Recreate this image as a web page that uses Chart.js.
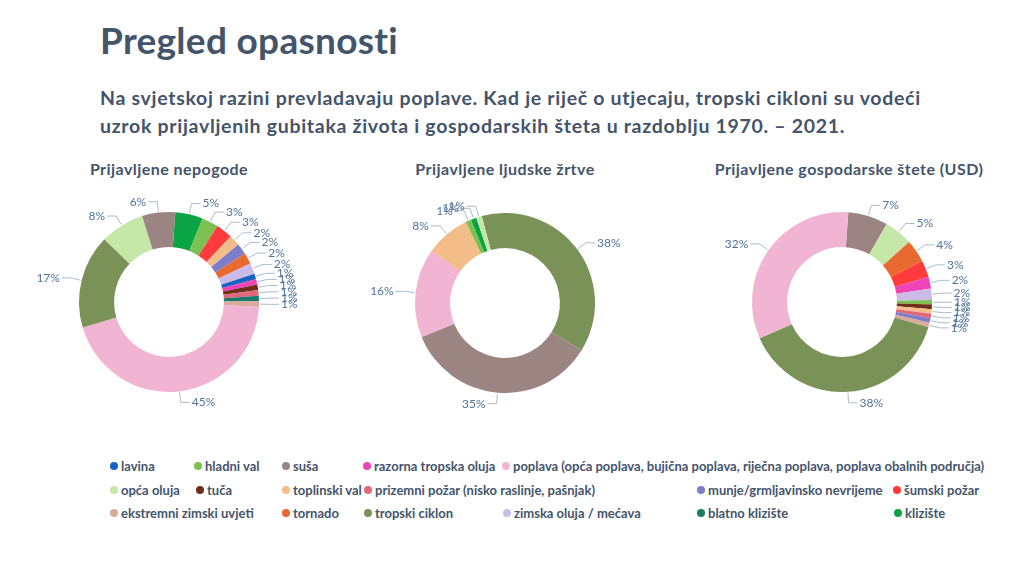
<!DOCTYPE html>
<html>
<head>
<meta charset="utf-8">
<script src="https://cdn.jsdelivr.net/npm/chart.js@4.4.0/dist/chart.umd.min.js"></script>
<style>
  body { margin: 0; width: 1024px; height: 562px; background: #fff; position: relative; overflow: hidden; font-family: Lato, sans-serif; color: #44546a; }
  #naslov { position: absolute; left: 100px; top: 18px; font-size: 37px; font-weight: bold; line-height: 44px; letter-spacing: 0.3px; white-space: nowrap; }
  #podnaslov { position: absolute; left: 100px; top: 84px; font-size: 19.5px; font-weight: bold; line-height: 28px; letter-spacing: 0.7px; white-space: nowrap; }
  .ctitle { position: absolute; top: 159px; width: 340px; text-align: center; font-size: 16px; font-weight: bold; letter-spacing: 0.45px; white-space: nowrap; }
  canvas { position: absolute; }
  .leg { position: absolute; font-size: 13px; font-weight: bold; white-space: nowrap; line-height: 16px; }
  .leg i { position: absolute; left: -11px; top: 4px; width: 8px; height: 8px; border-radius: 50%; }
</style>
</head>
<body>
<div id="naslov">Pregled opasnosti</div>
<div id="podnaslov">Na svjetskoj razini prevladavaju poplave. Kad je riječ o utjecaju, tropski cikloni su vodeći<br>uzrok prijavljenih gubitaka života i gospodarskih šteta u razdoblju 1970. – 2021.</div>
<div class="ctitle" style="left:-1px">Prijavljene nepogode</div>
<div class="ctitle" style="left:335px">Prijavljene ljudske žrtve</div>
<div class="ctitle" style="left:679px">Prijavljene gospodarske štete (USD)</div>
<canvas id="c1" width="340" height="260" style="left:-1px;top:172px"></canvas>
<canvas id="c2" width="340" height="260" style="left:335px;top:173px"></canvas>
<canvas id="c3" width="340" height="260" style="left:672px;top:172px"></canvas>
<div id="legenda"></div>
<script>
// kategorije i boje
const kategorije = ['lavina', 'hladni val', 'suša', 'razorna tropska oluja',
  'poplava (opća poplava, bujična poplava, riječna poplava, poplava obalnih područja)',
  'opća oluja', 'tuča', 'toplinski val', 'prizemni požar (nisko raslinje, pašnjak)',
  'munje/grmljavinsko nevrijeme', 'šumski požar', 'ekstremni zimski uvjeti', 'tornado',
  'tropski ciklon', 'zimska oluja / mećava', 'blatno klizište', 'klizište'];
const boje = ['#1663c2', '#7cc152', '#9b8583', '#ee44b8', '#f2b4d3', '#c5e8a8', '#6e2e1a',
  '#f3bd8a', '#e0687a', '#7b7dcb', '#ff3b3b', '#daab9a', '#e86a30', '#7a9258', '#cbbbe6',
  '#1b7a6c', '#0aa444'];

// prvi grafikon - prijavljene nepogode (%)
const nepogodeKat = ['klizište', 'hladni val', 'šumski požar', 'toplinski val', 'munje/grmljavinsko nevrijeme',
  'tornado', 'zimska oluja / mećava', 'lavina', 'razorna tropska oluja', 'tuča',
  'prizemni požar (nisko raslinje, pašnjak)', 'blatno klizište', 'ekstremni zimski uvjeti',
  'poplava (opća poplava, bujična poplava, riječna poplava, poplava obalnih područja)',
  'tropski ciklon', 'opća oluja', 'suša'];
const nepogodeVal = [5, 3, 3, 2, 2, 2, 2, 1, 1, 1, 1, 1, 1, 45, 17, 8, 6];

// drugi grafikon - ljudske žrtve (%)
const zrtveKat = ['tropski ciklon', 'suša',
  'poplava (opća poplava, bujična poplava, riječna poplava, poplava obalnih područja)',
  'toplinski val', 'hladni val', 'klizište', 'opća oluja'];
const zrtveVal = [38, 35, 16, 8, 1, 1, 1];

// treći grafikon - gospodarske štete (%)
const steteKat = ['suša', 'opća oluja', 'tornado', 'šumski požar', 'razorna tropska oluja',
  'zimska oluja / mećava', 'hladni val', 'tuča', 'toplinski val',
  'prizemni požar (nisko raslinje, pašnjak)', 'munje/grmljavinsko nevrijeme',
  'ekstremni zimski uvjeti', 'tropski ciklon',
  'poplava (opća poplava, bujična poplava, riječna poplava, poplava obalnih područja)'];
const steteVal = [7, 5, 4, 3, 2, 2, 0.8, 0.8, 0.8, 0.8, 0.8, 0.8, 38, 32];

// raspored legende (x točke, y retka)
const legendaPoz = [[114, 466], [198, 466], [286, 466], [367, 466], [506, 466],
  [114, 490], [200, 490], [286, 490], [368, 490], [701, 490], [897, 490],
  [114, 513], [286, 513], [368, 513], [507, 513], [701, 513], [898, 513]];
const legendaRed = ['lavina', 'hladni val', 'suša', 'razorna tropska oluja',
  'poplava (opća poplava, bujična poplava, riječna poplava, poplava obalnih područja)',
  'opća oluja', 'tuča', 'toplinski val', 'prizemni požar (nisko raslinje, pašnjak)',
  'munje/grmljavinsko nevrijeme', 'šumski požar', 'ekstremni zimski uvjeti', 'tornado',
  'tropski ciklon', 'zimska oluja / mećava', 'blatno klizište', 'klizište'];

const boja = k => boje[kategorije.indexOf(k)];

// oznake izvan prstena s linijama
const vanjskeOznake = {
  id: 'vanjskeOznake',
  afterDatasetsDraw(chart) {
    const ctx = chart.ctx;
    const meta = chart.getDatasetMeta(0);
    const vals = chart.data.datasets[0].data;
    ctx.save();
    ctx.font = '12px Lato';
    ctx.lineWidth = 1;
    meta.data.forEach((arc, i) => {
      const p = arc.getProps(['x', 'y', 'startAngle', 'endAngle', 'outerRadius'], true);
      const mid = (p.startAngle + p.endAngle) / 2;
      const c = Math.cos(mid), s = Math.sin(mid);
      const x0 = p.x + c * (p.outerRadius + 1), y0 = p.y + s * (p.outerRadius + 1);
      const x1 = p.x + c * (p.outerRadius + 11), y1 = p.y + s * (p.outerRadius + 11);
      const desno = c >= 0;
      const x2 = x1 + (desno ? 9 : -9);
      ctx.strokeStyle = '#a9bccf';
      ctx.beginPath(); ctx.moveTo(x0, y0); ctx.lineTo(x1, y1); ctx.lineTo(x2, y1); ctx.stroke();
      ctx.fillStyle = '#52739a';
      ctx.textAlign = desno ? 'left' : 'right';
      ctx.textBaseline = 'middle';
      ctx.fillText(Math.round(vals[i]) + '%', x2 + (desno ? 2 : -2), y1);
    });
    ctx.restore();
  }
};

function napravi(id, kat, val, rot) {
  return new Chart(document.getElementById(id).getContext('2d'), {
    type: 'doughnut',
    data: {
      labels: kat,
      datasets: [{ data: val, backgroundColor: kat.map(boja), borderWidth: 0 }]
    },
    options: {
      responsive: false,
      animation: false,
      rotation: rot,
      cutout: '61%',
      layout: { padding: { left: 80, right: 80, top: 40, bottom: 40 } },
      plugins: { legend: { display: false }, tooltip: { enabled: false } }
    },
    plugins: [vanjskeOznake]
  });
}

napravi('c1', nepogodeKat, nepogodeVal, 4);
napravi('c2', zrtveKat, zrtveVal, -15);
napravi('c3', steteKat, steteVal, 4);

// legenda
const leg = document.getElementById('legenda');
legendaRed.forEach((k, i) => {
  const d = document.createElement('div');
  d.className = 'leg';
  d.style.left = (legendaPoz[i][0] + 7) + 'px';
  d.style.top = (legendaPoz[i][1] - 8) + 'px';
  d.innerHTML = '<i style="background:' + boja(k) + '"></i>' + k;
  leg.append(d);
});
</script>
</body>
</html>
